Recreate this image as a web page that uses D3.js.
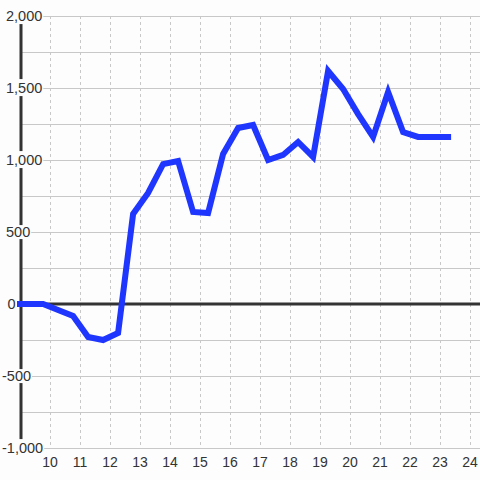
<!DOCTYPE html>
<html><head><meta charset="utf-8">
<script src="https://cdn.jsdelivr.net/npm/d3@7"></script>
<style>html,body{margin:0;padding:0;background:#fdfdfd;}svg{display:block;}</style>
</head><body>
<svg id="chart" width="480" height="480"></svg>
<script>
const xValues = [9.0, 9.27, 9.77, 10.27, 10.77, 11.27, 11.77, 12.27, 12.77, 13.27, 13.77, 14.27, 14.77, 15.27, 15.77, 16.27, 16.77, 17.27, 17.77, 18.27, 18.77, 19.27, 19.77, 20.27, 20.77, 21.27, 21.77, 22.27, 22.77, 23.27];
const yValues = [0, 0, 0, -42, -83, -229, -250, -201, 625, 771, 972, 993, 639, 632, 1042, 1222, 1243, 1000, 1035, 1125, 1021, 1618, 1493, 1319, 1160, 1472, 1194, 1160, 1160, 1160];
const xTicks = [10, 11, 12, 13, 14, 15, 16, 17, 18, 19, 20, 21, 22, 23, 24];
const yTicks = [-1000, -500, 0, 500, 1000, 1500, 2000];
const yGrid = [-1000, -750, -500, -250, 0, 250, 500, 750, 1000, 1250, 1500, 1750, 2000];

const svg = d3.select("#chart");
const x = d3.scaleLinear().domain([9, 24]).range([20, 470]);
const y = d3.scaleLinear().domain([-1000, 2000]).range([448, 16]);
const right = 480;
const font = "'Liberation Sans', Arial, sans-serif";
const bg = "#fdfdfd";

// horizontal grid
svg.append("g").selectAll("line").data(yGrid).join("line")
  .attr("x1", 20).attr("x2", right)
  .attr("y1", d => y(d)).attr("y2", d => y(d))
  .attr("stroke", "#c8c8c8").attr("stroke-width", 1).attr("shape-rendering", "crispEdges");

// vertical dotted grid
svg.append("g").selectAll("line").data(xTicks).join("line")
  .attr("x1", d => x(d)).attr("x2", d => x(d))
  .attr("y1", y(2000)).attr("y2", y(-1000))
  .attr("stroke", "#c8c8c8").attr("stroke-width", 1).attr("stroke-dasharray", "3,3")
  .attr("shape-rendering", "crispEdges");

// y axis line
svg.append("line").attr("x1", 21).attr("x2", 21).attr("y1", y(2000)).attr("y2", y(-1000))
  .attr("stroke", "#333").attr("stroke-width", 3);

// zero line
svg.append("line").attr("x1", 20).attr("x2", right).attr("y1", y(0)).attr("y2", y(0))
  .attr("stroke", "#333").attr("stroke-width", 3);

// y labels with background
const fmt = d => d3.format(",")(d).replace("\u2212", "-");
const yl = svg.append("g").selectAll("g").data(yTicks).join("g");
yl.append("text")
  .attr("x", d => d < 0 ? 2 : (d === 0 ? 7.5 : 6)).attr("y", d => y(d)).attr("dy", "0.35em")
  .attr("text-anchor", "start").attr("font-family", font).attr("font-size", 14.5)
  .attr("fill", "#333").text(fmt);
yl.each(function(d) {
  const t = d3.select(this).select("text");
  const b = t.node().getBBox();
  const hasComma = Math.abs(d) >= 1000;
  d3.select(this).insert("rect", "text")
    .attr("x", b.x - 1).attr("y", hasComma ? b.y - 1 : b.y + 1)
    .attr("width", b.width + 2).attr("height", hasComma ? b.height + 1 : b.height - 2)
    .attr("fill", bg);
});

// x labels
svg.append("g").selectAll("text").data(xTicks).join("text")
  .attr("x", d => x(d)).attr("y", 467)
  .attr("text-anchor", "middle").attr("font-family", font).attr("font-size", 14)
  .attr("fill", "#333").text(d => d);

// data line
const line = d3.line().x((d, i) => x(xValues[i])).y(d => y(d));
svg.append("path").datum(yValues).attr("d", line)
  .attr("fill", "none").attr("stroke", "#1f36ff").attr("stroke-width", 6)
  .attr("stroke-linejoin", "miter").attr("stroke-linecap", "square");
</script>
</body></html>
